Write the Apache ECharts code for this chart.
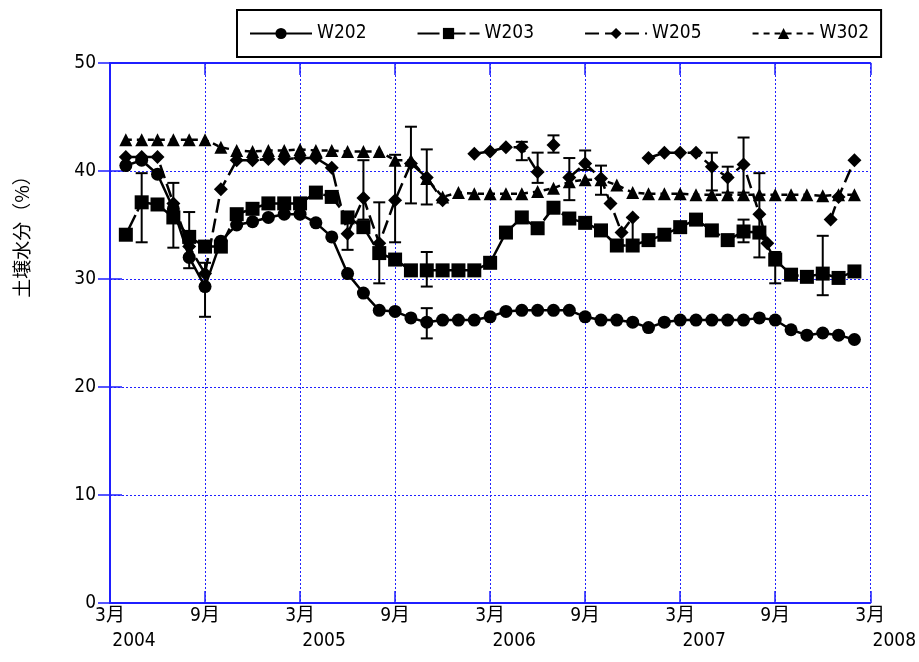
<!DOCTYPE html>
<html><head><meta charset="utf-8">
<script src="https://cdn.jsdelivr.net/npm/echarts@6/dist/echarts.min.js"></script>
<style>html,body{margin:0;padding:0;background:#fff}#c{width:919px;height:662px}</style>
</head><body><div id="c"></div>
<script>
// months after March 2004 (0 = 3月 2004)
const months = [1,2,3,4,5,6,7,8,9,10,11,12,13,14,15,16,17,18,19,20,21,22,23,24,25,26,27,28,29,30,31,32,33,34,35,36,37,38,39,40,41,42,43,44,45,46,47];
const w202 = [40.5,41,39.7,36.5,32,29.3,33.5,35,35.3,35.7,36,36,35.2,33.9,30.5,28.7,27.1,27,26.4,26,26.2,26.2,26.2,26.5,27,27.1,27.1,27.1,27.1,26.5,26.2,26.2,26,25.5,26,26.2,26.2,26.2,26.2,26.2,26.4,26.2,25.3,24.8,25,24.8,24.4];
const w203 = [34.1,37.1,36.9,35.7,33.9,33,33,36,36.5,37,37,37,38,37.6,35.7,34.8,32.4,31.8,30.8,30.8,30.8,30.8,30.8,31.5,34.3,35.7,34.7,36.6,35.6,35.2,34.5,33.1,33.1,33.6,34.1,34.8,35.5,34.5,33.6,34.4,34.3,31.8,30.4,30.2,30.5,30.1,30.7];
const w302 = [42.9,42.9,42.9,42.9,42.9,42.9,42.2,41.9,41.8,41.9,41.9,42,41.9,41.9,41.8,41.8,41.8,41,41,39.3,37.6,38,37.9,37.9,37.9,37.9,38.1,38.4,39,39.2,39.2,38.7,38,37.9,37.9,37.9,37.8,37.8,37.8,37.8,37.8,37.8,37.8,37.8,37.7,37.8,37.8];
const w205Month = [1,2,3,4,5,6,7,8,9,10,11,12,13,14,15,16,17,18,19,20,21,22,23,24,25,26,27,27.5,28,28.5,29,30,31,31.6,32.3,33,33.5,34,35,36,37,38,39,40,41,41.5,43,45.5,46,47];
const w205Value = [41.3,41.3,41.3,37,33,30.5,38.3,41,41,41.1,41.1,41.2,41.2,40.3,34.2,37.5,33.3,37.3,40.7,39.4,37.3,null,41.6,41.8,42.2,42.2,39.9,null,42.4,null,39.4,40.7,39.3,37,34.3,35.7,null,41.2,41.7,41.7,41.7,40.4,39.4,40.6,36,33.3,null,35.5,37.6,41];
// error bars
const errMonth = [2,4,5,6,15,16,17,18,19,20,20,20,26,27,28,29,30,31,33,38,39,40,40,41,42,45];
const errLow  = [33.4,32.9,31,26.5,32.7,35.5,29.6,33.4,37,36.9,29.3,24.5,41,38.9,41.7,37.3,40.1,37.8,33.1,38.2,38,38,33.4,32,29.6,28.5];
const errHigh = [39.8,38.9,36.2,31.5,35.7,41,37.1,41.5,44.1,42,32.5,27.3,42.7,41.7,43.3,41.2,41.9,40.5,35.7,41.7,40.4,43.1,35.5,39.8,32.5,34];
const monthLabels = ['3月','9月'];
const yearLabels = ['2004','2005','2006','2007','2008'];
const seriesNames = ['W202','W203','W205','W302'];
const yAxisName = '土壌水分（%）';

const FONT = "'Liberation Sans Narrow','DejaVu Sans Condensed','Liberation Sans',sans-serif";
const CJK = "'Liberation Sans Narrow','DejaVu Sans Condensed','Noto Sans CJK JP',sans-serif";
const BLUE = '#1f1fff';

function pairs(xs, ys){ return xs.map((x,i)=>[x, ys[i]==null ? '-' : ys[i]]); }

const chart = echarts.init(document.getElementById('c'), null, {renderer:'canvas'});
const axisLineStyle = {show:true, lineStyle:{color:BLUE, width:2}};
const tickStyle = {show:true, inside:true, length:12, lineStyle:{color:BLUE, width:1.5}};
const lineBase = {type:'line', xAxisIndex:0, yAxisIndex:0, symbolKeepAspect:true, connectNulls:false,
  itemStyle:{color:'#000'}};
const option = {
  animation:false,
  backgroundColor:'#fff',
  grid:{left:110, right:46, top:63, bottom:59},
  legend:{
    left:237, top:10, orient:'horizontal',
    padding:[14,12,14,12], itemGap:50, itemWidth:62, itemHeight:14,
    borderColor:'#000', borderWidth:2, backgroundColor:'#fff',
    textStyle:{fontSize:19, fontFamily:FONT, color:'#000'},
    data:seriesNames
  },
  graphic:[{type:'text', x:22, y:232, rotation:Math.PI/2,
    style:{text:yAxisName, fontSize:19, fontFamily:"'Noto Sans CJK JP',sans-serif", fill:'#000', textAlign:'center', textVerticalAlign:'middle'}}],
  xAxis:[
    {type:'value', min:0, max:48, interval:6, position:'bottom',
      axisLine:axisLineStyle, axisTick:tickStyle,
      axisLabel:{formatter:v=>monthLabels[(v/6)%2], color:'#000', fontSize:19, fontFamily:CJK, margin:4, showMinLabel:true, showMaxLabel:true},
      splitLine:{show:true, lineStyle:{color:BLUE, type:[2,2], width:1}}},
    {type:'value', min:0, max:48, interval:12, position:'bottom', offset:25,
      axisLine:{show:false}, axisTick:{show:false}, splitLine:{show:false},
      axisLabel:{formatter:v=>yearLabels[v/12], color:'#000', fontSize:19, fontFamily:FONT, margin:4, padding:[0,0,0,48], showMinLabel:true, showMaxLabel:true}},
    {type:'value', min:0, max:48, interval:6, position:'top',
      axisLine:axisLineStyle, axisTick:tickStyle, axisLabel:{show:false}, splitLine:{show:false}}
  ],
  yAxis:[
    {type:'value', min:0, max:50, interval:10, position:'left',
      axisLine:axisLineStyle, axisTick:tickStyle,
      axisLabel:{color:'#000', fontSize:19, fontFamily:FONT, margin:14},
      splitLine:{show:true, lineStyle:{color:BLUE, type:[2,2], width:1}}},
    {type:'value', min:0, max:50, interval:10, position:'right',
      axisLine:axisLineStyle, axisTick:tickStyle, axisLabel:{show:false}, splitLine:{show:false}}
  ],
  series:[
    Object.assign({}, lineBase, {name:'W202', data:pairs(months,w202), symbol:'circle', symbolSize:13,
      lineStyle:{color:'#000', width:2.5, type:'solid'}}),
    Object.assign({}, lineBase, {name:'W203', data:pairs(months,w203), symbol:'rect', symbolSize:14,
      lineStyle:{color:'#000', width:2.5, type:[22,4]}}),
    Object.assign({}, lineBase, {name:'W205', data:pairs(w205Month,w205Value), symbol:'diamond', symbolSize:14,
      lineStyle:{color:'#000', width:2.5, type:[14,6]}}),
    Object.assign({}, lineBase, {name:'W302', data:pairs(months,w302), symbol:'triangle', symbolSize:13,
      lineStyle:{color:'#000', width:2.5, type:[6,5]}}),
    {type:'custom', name:'err', xAxisIndex:0, yAxisIndex:0, silent:true, z:3,
      data:errMonth.map((m,i)=>[m, errLow[i], errHigh[i]]),
      encode:{x:0, y:[1,2]},
      renderItem:function(params, api){
        const x = api.value(0);
        const p1 = api.coord([x, api.value(1)]);
        const p2 = api.coord([x, api.value(2)]);
        const w = 6;
        const st = {stroke:'#000', lineWidth:2};
        return {type:'group', children:[
          {type:'line', shape:{x1:p1[0], y1:p1[1], x2:p2[0], y2:p2[1]}, style:st},
          {type:'line', shape:{x1:p1[0]-w, y1:p1[1], x2:p1[0]+w, y2:p1[1]}, style:st},
          {type:'line', shape:{x1:p2[0]-w, y1:p2[1], x2:p2[0]+w, y2:p2[1]}, style:st}
        ]};
      }}
  ]
};
chart.setOption(option);
</script></body></html>
